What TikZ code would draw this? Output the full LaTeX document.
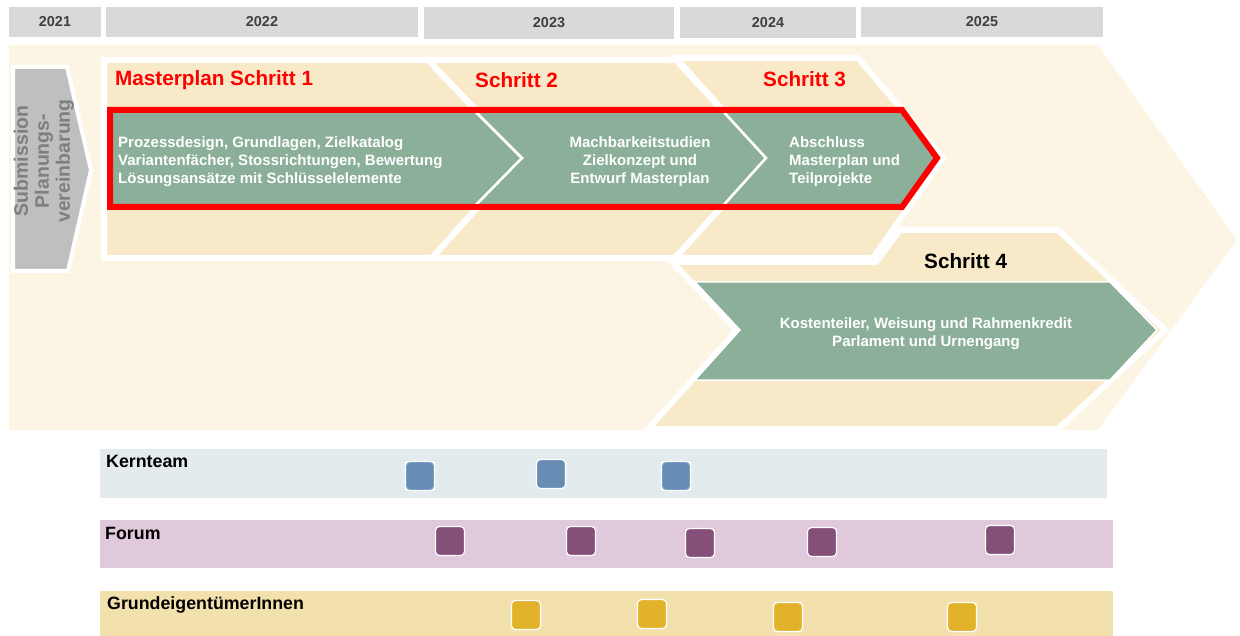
\documentclass[tikz,border=0pt]{standalone}
\usepackage{fontspec}
\setmainfont{Liberation Sans}
\usepackage{tikz}
\usetikzlibrary{positioning}

\definecolor{bgcream}{HTML}{FCF5E3}
\definecolor{wheat}{HTML}{F8EAC8}
\definecolor{sage}{HTML}{8CAF9A}
\definecolor{yeargray}{HTML}{D9D9D9}
\definecolor{yeartext}{HTML}{404040}
\definecolor{arrowgray}{HTML}{BFBFBF}
\definecolor{arrowtext}{HTML}{7F7F7F}
\definecolor{kernband}{HTML}{E4EBEF}
\definecolor{forumband}{HTML}{DFC9DB}
\definecolor{grundband}{HTML}{F3E1AD}
\definecolor{kernsq}{HTML}{678DB4}
\definecolor{forumsq}{HTML}{845079}
\definecolor{grundsq}{HTML}{E3B22B}

\begin{document}
\begin{tikzpicture}[x=1pt,y=-1pt,
    yearbox/.style={fill=yeargray,text=yeartext,inner sep=0pt,font=\bfseries\fontsize{14.4}{16}\selectfont},
    band/.style={fill=wheat,draw=white,line width=6pt},
    chevron/.style={fill=sage,draw=white,line width=2.5pt},
    steplabel/.style={anchor=base west,inner sep=0pt,font=\bfseries\fontsize{20.7}{24}\selectfont},
    steptext/.style={inner sep=0pt,text=white,font=\bfseries\fontsize{15}{18}\selectfont},
    rowlabel/.style={anchor=base west,inner sep=0pt,font=\bfseries\fontsize{17.8}{20}\selectfont},
    meeting/.style={draw=white,line width=1.2pt,rounded corners=4pt,minimum size=29pt,inner sep=0pt}]

    \useasboundingbox (0,0) rectangle (1240,636);

    % years
    \node[yearbox,minimum width=92pt,minimum height=30pt] (y2021) at (55,22) {2021};
    \node[yearbox,minimum width=312pt,minimum height=30pt] (y2022) at (262,22) {2022};
    \node[yearbox,minimum width=250pt,minimum height=32pt] (y2023) at (549,23) {2023};
    \node[yearbox,minimum width=176pt,minimum height=31pt] (y2024) at (768,22.5) {2024};
    \node[yearbox,minimum width=242pt,minimum height=30pt] (y2025) at (982,22) {2025};

    % big arrow behind everything
    \fill[bgcream] (9,45) -- (1098,45) -- (1237,240) -- (1098,430) -- (9,430) -- cycle;

    % submission
    \draw[fill=arrowgray,draw=white,line width=4pt] (13,67) -- (67,67) -- (91,170) -- (68,271) -- (13,271) -- cycle;
    \node[rotate=90,align=center,inner sep=0pt,text=arrowtext,font=\bfseries\fontsize{19.5}{21}\selectfont] (subm) at (44,161) {Submission\\Planungs-\\vereinbarung};

    % step bands
    \draw[band] (104,60) -- (428,60) -- (522,158) -- (432,258) -- (104,258) -- cycle;
    \draw[band] (428,60) -- (676,60) -- (766,158) -- (675,258) -- (432,258) -- (522,158) -- cycle;
    \draw[band] (676,58) -- (858,58) -- (943,158) -- (873,258) -- (675,258) -- (766,158) -- cycle;
    \draw[band] (672,262) -- (876,262) -- (900,230) -- (1058,230) -- (1165,330) -- (1058,429) -- (648,429) -- (737,330) -- cycle;

    % green chevrons
    \draw[chevron] (110,110) -- (474,110) -- (522,158) -- (474,207) -- (110,207) -- cycle;
    \draw[chevron] (474,110) -- (722,110) -- (766,158) -- (722,207) -- (474,207) -- (522,158) -- cycle;
    \draw[chevron] (722,110) -- (902,110) -- (937,158) -- (902,207) -- (722,207) -- (766,158) -- cycle;
    \draw[chevron,line width=1.5pt] (695,282) -- (1110,282) -- (1157,330) -- (1110,380) -- (695,380) -- (740,330) -- cycle;

    % red frame
    \draw[red,line width=6pt] (110,110) -- (902,110) -- (937,158) -- (902,207) -- (110,207) -- cycle;

    % step labels
    \node[steplabel,text=red] (schritta) at (115,86) {Masterplan Schritt 1};
    \node[steplabel,text=red] (schrittb) at (475,88) {Schritt 2};
    \node[steplabel,text=red] (schrittc) at (763,87) {Schritt 3};
    \node[steplabel] (schrittd) at (924,269) {Schritt 4};

    \node[steptext,align=left,anchor=west] (texta) at (118,161.5) {Prozessdesign, Grundlagen, Zielkatalog\\Variantenfächer, Stossrichtungen, Bewertung\\Lösungsansätze mit Schlüsselelemente};
    \node[steptext,align=center] (textb) at (640,161.5) {Machbarkeitstudien\\Zielkonzept und\\Entwurf Masterplan};
    \node[steptext,align=left,anchor=west] (textc) at (789,161.5) {Abschluss\\Masterplan und\\Teilprojekte};
    \node[steptext,align=center] (textd) at (926,333.5) {Kostenteiler, Weisung und Rahmenkredit\\Parlament und Urnengang};

    % rows
    \fill[kernband] (100,449) rectangle (1107,498);
    \fill[forumband] (100,520) rectangle (1113,568);
    \fill[grundband] (100,591) rectangle (1113,636);
    \node[rowlabel] (kern) at (106,467) {Kernteam};
    \node[rowlabel] (forum) at (105,539) {Forum};
    \node[rowlabel] (grund) at (107,609) {GrundeigentümerInnen};

    \node[meeting,fill=kernsq] (kerna) at (420,476) {};
    \node[meeting,fill=kernsq] (kernb) at (551,474) {};
    \node[meeting,fill=kernsq] (kernc) at (676,476) {};

    \node[meeting,fill=forumsq] (foruma) at (450,541) {};
    \node[meeting,fill=forumsq] (forumb) at (581,541) {};
    \node[meeting,fill=forumsq] (forumc) at (700,543) {};
    \node[meeting,fill=forumsq] (forumd) at (822,542) {};
    \node[meeting,fill=forumsq] (forume) at (1000,540) {};

    \node[meeting,fill=grundsq] (grunda) at (526,615) {};
    \node[meeting,fill=grundsq] (grundb) at (652,614) {};
    \node[meeting,fill=grundsq] (grundc) at (788,617) {};
    \node[meeting,fill=grundsq] (grundd) at (962,617) {};
\end{tikzpicture}
\end{document}
